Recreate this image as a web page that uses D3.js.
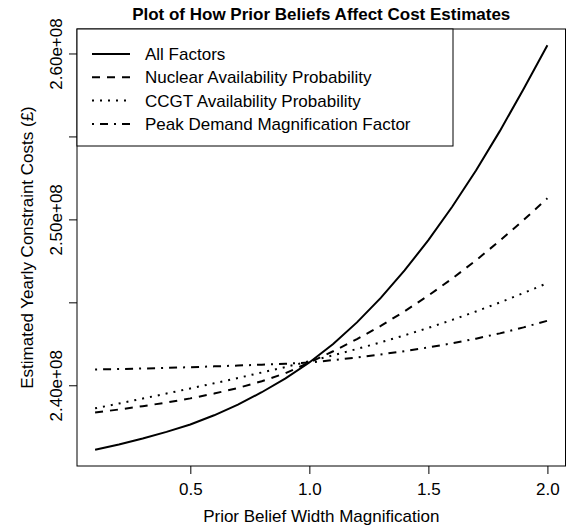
<!DOCTYPE html>
<html>
<head>
<meta charset="utf-8">
<script src="https://cdn.jsdelivr.net/npm/d3@7/dist/d3.min.js"></script>
<style>
  body { margin: 0; background: #fff; }
  svg text { font-family: "Liberation Sans", Arial, Helvetica, sans-serif; fill: #000; }
</style>
</head>
<body>
<svg id="chart" width="575" height="530"></svg>
<script>
// Prior belief width magnification factors
const magnification = [0.1, 0.2, 0.3, 0.4, 0.5, 0.6, 0.7, 0.8, 0.9, 1.0,
                       1.1, 1.2, 1.3, 1.4, 1.5, 1.6, 1.7, 1.8, 1.9, 2.0];

// Estimated yearly constraint costs (GBP) for each scenario
const allFactors = [2.3611e8, 2.3643e8, 2.3679e8, 2.3719e8, 2.3764e8, 2.3819e8, 2.3883e8, 2.3958e8, 2.4042e8, 2.4137e8,
                    2.4249e8, 2.4379e8, 2.4527e8, 2.4692e8, 2.4875e8, 2.5076e8, 2.5295e8, 2.5532e8, 2.5786e8, 2.6050e8];
const nuclearAvail = [2.3836e8, 2.3854e8, 2.3874e8, 2.3896e8, 2.3921e8, 2.3950e8, 2.3984e8, 2.4024e8, 2.4073e8, 2.4137e8,
                      2.4205e8, 2.4278e8, 2.4358e8, 2.4446e8, 2.4541e8, 2.4643e8, 2.4753e8, 2.4871e8, 2.4996e8, 2.5127e8];
const ccgtAvail = [2.3861e8, 2.3890e8, 2.3920e8, 2.3950e8, 2.3981e8, 2.4012e8, 2.4044e8, 2.4077e8, 2.4110e8, 2.4145e8,
                   2.4181e8, 2.4219e8, 2.4259e8, 2.4301e8, 2.4346e8, 2.4394e8, 2.4445e8, 2.4499e8, 2.4556e8, 2.4616e8];
const peakDemand = [2.4095e8, 2.4098e8, 2.4101e8, 2.4105e8, 2.4109e8, 2.4114e8, 2.4119e8, 2.4124e8, 2.4130e8, 2.4137e8,
                    2.4152e8, 2.4168e8, 2.4186e8, 2.4206e8, 2.4228e8, 2.4253e8, 2.4281e8, 2.4313e8, 2.4349e8, 2.4389e8];

const seriesNames = ["All Factors", "Nuclear Availability Probability",
                     "CCGT Availability Probability", "Peak Demand Magnification Factor"];
const seriesValues = [allFactors, nuclearAvail, ccgtAvail, peakDemand];
const seriesDash = ["none", "8,7", "2,6", "2,6,8,6"];

const xTickValues = [0.5, 1.0, 1.5, 2.0];
const xTickLabels = ["0.5", "1.0", "1.5", "2.0"];
const yTickValues = [2.40e8, 2.45e8, 2.50e8, 2.55e8, 2.60e8];
const yTickLabels = ["2.40e+08", "", "2.50e+08", "", "2.60e+08"];

const titleText = "Plot of How Prior Beliefs Affect Cost Estimates";
const xTitle = "Prior Belief Width Magnification";
const yTitle = "Estimated Yearly Constraint Costs (£)";

// ---- layout ----
const plot = { left: 77, right: 565.5, top: 29, bottom: 466 };
const FONT = 17;

const svg = d3.select("#chart");

// axis ranges padded by 4% on each side
function padded(ext) {
  const d = (ext[1] - ext[0]) * 0.04;
  return [ext[0] - d, ext[1] + d];
}
const allY = seriesValues.flat();
const x = d3.scaleLinear().domain(padded(d3.extent(magnification))).range([plot.left, plot.right]);
const y = d3.scaleLinear().domain(padded(d3.extent(allY))).range([plot.bottom, plot.top]);

// series lines
const line = d3.line()
  .x((d, i) => x(magnification[i]))
  .y(d => y(d));

const clip = svg.append("clipPath").attr("id", "plotClip")
  .append("rect")
  .attr("x", plot.left).attr("y", plot.top)
  .attr("width", plot.right - plot.left).attr("height", plot.bottom - plot.top);

svg.append("g").attr("clip-path", "url(#plotClip)")
  .selectAll("path.series")
  .data(seriesValues)
  .join("path")
  .attr("class", "series")
  .attr("d", d => line(d))
  .attr("fill", "none")
  .attr("stroke", "#000")
  .attr("stroke-width", 2)
  .attr("stroke-dasharray", (d, i) => seriesDash[i]);

// x axis
const xAxis = svg.append("g")
  .attr("transform", `translate(0,${plot.bottom})`)
  .call(d3.axisBottom(x)
    .tickValues(xTickValues)
    .tickFormat((d, i) => xTickLabels[i])
    .tickSize(8)
    .tickSizeOuter(0)
    .tickPadding(0));
xAxis.select(".domain").remove();
xAxis.selectAll(".tick line").attr("stroke", "#000").attr("stroke-width", 1);
xAxis.selectAll(".tick text")
  .attr("y", 29)
  .attr("dy", null)
  .style("font-size", FONT + "px")
  .style("font-family", '"Liberation Sans", Arial, sans-serif')
  .attr("fill", "#000");

// y axis
const yAxis = svg.append("g")
  .attr("transform", `translate(${plot.left},0)`)
  .call(d3.axisLeft(y)
    .tickValues(yTickValues)
    .tickFormat((d, i) => yTickLabels[i])
    .tickSize(8)
    .tickSizeOuter(0));
yAxis.select(".domain").remove();
yAxis.selectAll(".tick line").attr("stroke", "#000").attr("stroke-width", 1);
yAxis.selectAll(".tick text")
  .attr("x", null)
  .attr("dy", null)
  .attr("text-anchor", "middle")
  .attr("transform", "translate(-15.5,0) rotate(-90)")
  .style("font-size", FONT + "px")
  .style("font-family", '"Liberation Sans", Arial, sans-serif')
  .attr("fill", "#000");

// plot frame
svg.append("rect")
  .attr("x", plot.left).attr("y", plot.top)
  .attr("width", plot.right - plot.left).attr("height", plot.bottom - plot.top)
  .attr("fill", "none").attr("stroke", "#000").attr("stroke-width", 1);

// titles
svg.append("text")
  .attr("x", (plot.left + plot.right) / 2).attr("y", 20)
  .attr("text-anchor", "middle")
  .style("font-size", FONT + "px").style("font-weight", "bold")
  .text(titleText);

svg.append("text")
  .attr("x", (plot.left + plot.right) / 2).attr("y", 522)
  .attr("text-anchor", "middle")
  .style("font-size", FONT + "px")
  .text(xTitle);

svg.append("text")
  .attr("transform", `translate(33,${(plot.top + plot.bottom) / 2}) rotate(-90)`)
  .attr("text-anchor", "middle")
  .style("font-size", FONT + "px")
  .text(yTitle);

// legend
const legend = svg.append("g");
const legendBox = { x: plot.left, y: plot.top, w: 376, h: 117 };
legend.append("rect")
  .attr("x", legendBox.x).attr("y", legendBox.y)
  .attr("width", legendBox.w).attr("height", legendBox.h)
  .attr("fill", "#fff").attr("stroke", "#000").attr("stroke-width", 1);

const rowY = i => legendBox.y + 25 + i * 23.3;
legend.selectAll("line.key")
  .data(seriesNames)
  .join("line")
  .attr("class", "key")
  .attr("x1", 92).attr("x2", 130)
  .attr("y1", (d, i) => rowY(i)).attr("y2", (d, i) => rowY(i))
  .attr("stroke", "#000").attr("stroke-width", 2)
  .attr("stroke-dasharray", (d, i) => seriesDash[i]);

legend.selectAll("text.key")
  .data(seriesNames)
  .join("text")
  .attr("class", "key")
  .attr("x", 145)
  .attr("y", (d, i) => rowY(i) + 6)
  .style("font-size", FONT + "px")
  .text(d => d);
</script>
</body>
</html>
